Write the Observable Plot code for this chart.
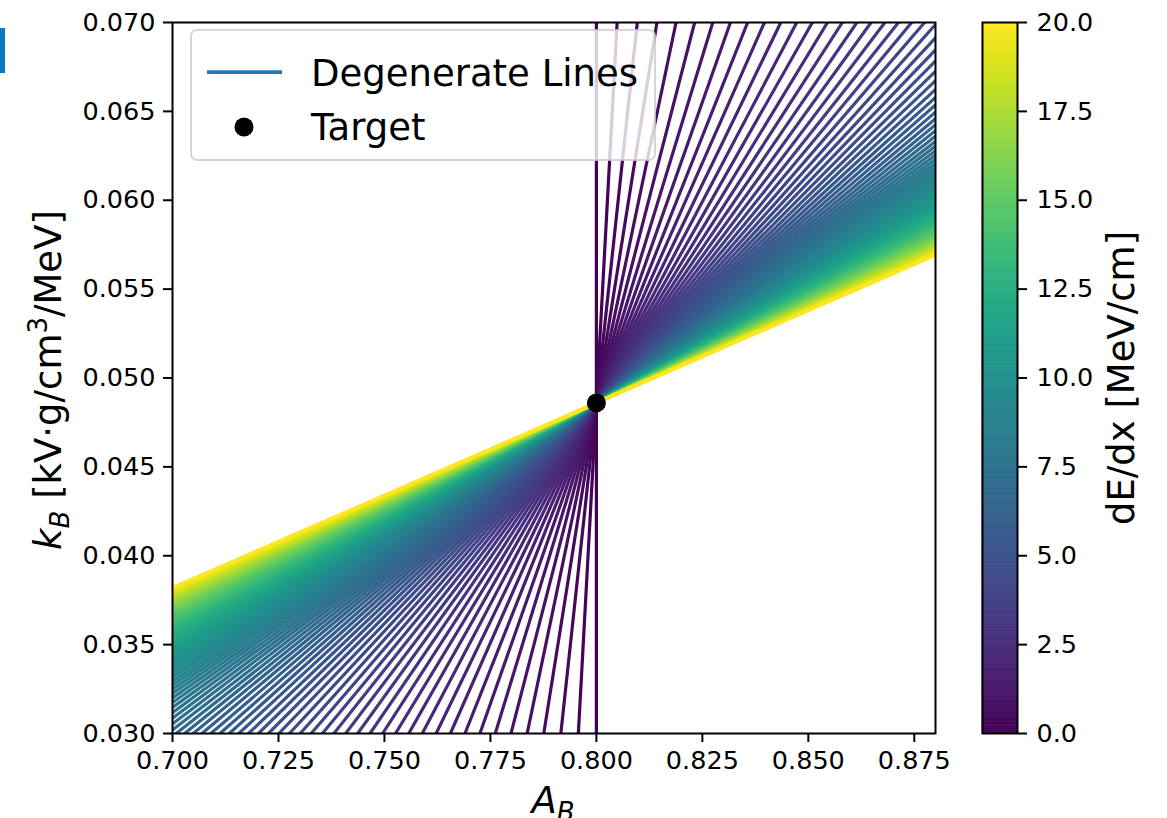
<!DOCTYPE html>
<html>
<head>
<meta charset="utf-8">
<script src="https://cdn.jsdelivr.net/npm/d3@7"></script>
<script src="https://cdn.jsdelivr.net/npm/@observablehq/plot@0.6"></script>
<style>
  html, body { margin: 0; padding: 0; background: white; }
  #wrap { position: relative; width: 1167px; height: 818px; overflow: hidden; font-family: "DejaVu Sans", sans-serif; }
  #wrap svg { position: absolute; top: 0; }
  #bar { position: absolute; left: 0; top: 28px; width: 5px; height: 45px; background: #0b78bf; }
</style>
</head>
<body>
<div id="wrap"><div id="bar"></div></div>
<script>
// ---- data ----
// dE/dx values (MeV/cm) of the degenerate lines
const dEdx = [0.0, 0.2, 0.4, 0.6, 0.8, 1.0, 1.2, 1.4, 1.6, 1.8,
  2.0, 2.2, 2.4, 2.6, 2.8, 3.0, 3.2, 3.4, 3.6, 3.8,
  4.0, 4.2, 4.4, 4.6, 4.8, 5.0, 5.2, 5.4, 5.6, 5.8,
  6.0, 6.2, 6.4, 6.6, 6.8, 7.0, 7.2, 7.4, 7.6, 7.8,
  8.0, 8.2, 8.4, 8.6, 8.8, 9.0, 9.2, 9.4, 9.6, 9.8,
  10.0, 10.2, 10.4, 10.6, 10.8, 11.0, 11.2, 11.4, 11.6, 11.8,
  12.0, 12.2, 12.4, 12.6, 12.8, 13.0, 13.2, 13.4, 13.6, 13.8,
  14.0, 14.2, 14.4, 14.6, 14.8, 15.0, 15.2, 15.4, 15.6, 15.8,
  16.0, 16.2, 16.4, 16.6, 16.8, 17.0, 17.2, 17.4, 17.6, 17.8,
  18.0, 18.2, 18.4, 18.6, 18.8, 19.0, 19.2, 19.4, 19.6, 19.8, 20.0];
// target Birks parameters
const targetA = [0.8];
const targetK = [0.0486];
// electric field (kV/cm) and LAr density (g/cm^3)
const efield = 0.5;
const density = 1.38;
// axes
const xDomain = [0.7, 0.88];
const yDomain = [0.03, 0.07];
const xTicks = [0.700, 0.725, 0.750, 0.775, 0.800, 0.825, 0.850, 0.875];
const yTicks = [0.030, 0.035, 0.040, 0.045, 0.050, 0.055, 0.060, 0.065, 0.070];
const cbDomain = [0, 20];
const cbTicks = [0, 2.5, 5, 7.5, 10, 12.5, 15, 17.5, 20];

// ---- lines of equal recombination A/(1 + k S/(E rho)) through the target ----
const A0 = targetA[0], k0 = targetK[0], er = efield * density;
const lineData = [];
for (const S of dEdx) {
  const inv = A0 * S / (er + k0 * S); // dA/dk along the degenerate line
  for (const k of yDomain) lineData.push({S, k, A: A0 + (k - k0) * inv});
}

const FONT = "DejaVu Sans";
const BIG = 37;
const chart = Plot.plot({
  width: 1167, height: 818,
  marginLeft: 172, marginRight: 232, marginTop: 22, marginBottom: 85,
  style: {fontFamily: FONT, color: "black", background: "transparent", overflow: "visible"},
  x: {domain: xDomain},
  y: {domain: yDomain},
  color: {type: "linear", scheme: "viridis", domain: cbDomain},
  marks: [
    Plot.line(lineData, {x: "A", y: "k", z: "S", stroke: "S", strokeWidth: 3.2, clip: true}),
    Plot.dot(targetA.map((a, i) => ({A: a, k: targetK[i]})), {x: "A", y: "k", r: 9.5, fill: "black", stroke: "none"}),
    Plot.frame({stroke: "black", strokeWidth: 2}),
    Plot.axisX(xTicks, {tickSize: 9, tickPadding: 8, strokeWidth: 2, fontSize: 25.5, tickFormat: d => d.toFixed(3), label: null}),
    Plot.axisY(yTicks, {tickSize: 9, tickPadding: 8, strokeWidth: 2, fontSize: 25.5, tickFormat: d => d.toFixed(3), label: null})
  ]
});
chart.style.left = "0px";
document.getElementById("wrap").appendChild(chart);

const svg = d3.select(chart);
// y label
const yl = svg.append("text")
  .attr("transform", "translate(61,380) rotate(-90)")
  .attr("text-anchor", "middle").attr("font-family", FONT).attr("font-size", BIG).attr("fill", "black");
yl.append("tspan").attr("font-style", "italic").text("k");
yl.append("tspan").attr("font-style", "italic").attr("font-size", 26).attr("dy", 8).text("B");
yl.append("tspan").attr("dy", -8).text(" [kV·g/cm");
yl.append("tspan").attr("font-size", 26).attr("dy", -14).text("3");
yl.append("tspan").attr("dy", 14).text("/MeV]");
// x label
const xl = svg.append("text")
  .attr("x", 553).attr("y", 813)
  .attr("text-anchor", "middle").attr("font-family", FONT).attr("font-size", BIG).attr("fill", "black");
xl.append("tspan").attr("font-style", "italic").text("A");
xl.append("tspan").attr("font-style", "italic").attr("font-size", 26).attr("dy", 8).text("B");

// legend
const lg = svg.append("g").attr("font-family", FONT).attr("font-size", BIG).attr("text-anchor", "start");
lg.append("rect").attr("x", 191).attr("y", 30).attr("width", 464).attr("height", 130).attr("rx", 6)
  .attr("fill", "white").attr("fill-opacity", 0.8).attr("stroke", "#cccccc").attr("stroke-opacity", 0.8).attr("stroke-width", 2);
lg.append("line").attr("x1", 207).attr("x2", 282).attr("y1", 72).attr("y2", 72)
  .attr("stroke", "#1f77b4").attr("stroke-width", 3.75);
lg.append("text").attr("x", 311).attr("y", 86).attr("text-anchor", "start").attr("fill", "black").text("Degenerate Lines");
lg.append("circle").attr("cx", 244).attr("cy", 127).attr("r", 9.5).attr("fill", "black");
lg.append("text").attr("x", 311).attr("y", 140).attr("text-anchor", "start").attr("fill", "black").text("Target");

// colorbar
const step = 0.05;
const bins = d3.range(cbDomain[0], cbDomain[1], step);
const cbar = Plot.plot({
  width: 185, height: 818,
  marginLeft: 0, marginRight: 150, marginTop: 22, marginBottom: 85,
  style: {fontFamily: FONT, color: "black", background: "transparent", overflow: "visible"},
  x: {domain: [0, 1], axis: null},
  y: {domain: cbDomain},
  color: {type: "linear", scheme: "viridis", domain: cbDomain},
  marks: [
    Plot.rect(bins, {x1: () => 0, x2: () => 1, y1: d => d, y2: d => d + step, fill: d => d + step / 2, stroke: d => d + step / 2, strokeWidth: 0.6}),
    Plot.frame({stroke: "black", strokeWidth: 2}),
    Plot.axisY(cbTicks, {anchor: "right", tickSize: 9, tickPadding: 10, strokeWidth: 2, fontSize: 25.5, tickFormat: d => d.toFixed(1), label: null}),
    Plot.text(["dE/dx [MeV/cm]"], {x: () => 4.0, y: () => 10, rotate: -90, fontSize: BIG, textAnchor: "middle", lineAnchor: "middle", fill: "black"})
  ]
});
cbar.style.left = "982px";
document.getElementById("wrap").appendChild(cbar);
</script>
</body>
</html>
